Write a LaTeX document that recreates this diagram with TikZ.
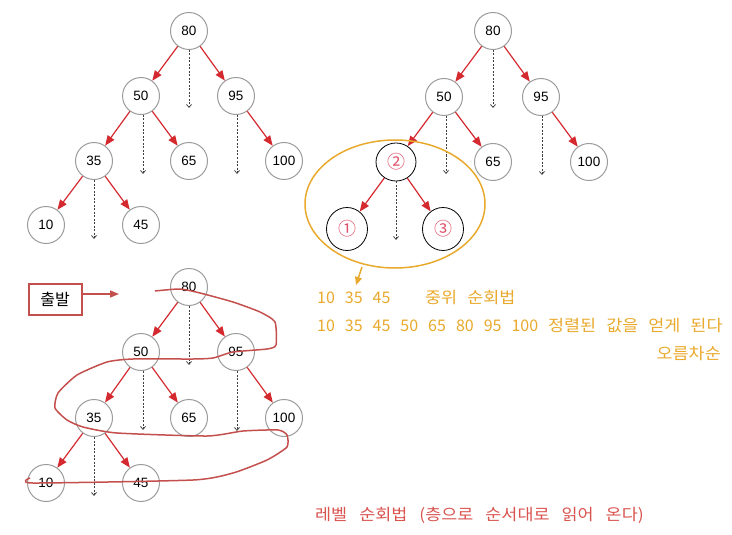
\documentclass[tikz,border=0pt]{standalone}
\usepackage{fontspec}
\setmainfont{Liberation Sans}
\newfontfamily\ko{Noto Sans CJK KR}
\newfontfamily\kow[FakeStretch=1.09]{Noto Sans CJK KR}
\usetikzlibrary{arrows.meta,shapes.geometric}
\definecolor{edgered}{HTML}{D42A2F}
\definecolor{nodegray}{HTML}{9C9C9C}
\definecolor{orng}{HTML}{E9A92C}
\definecolor{lvlred}{HTML}{C4504E}
\definecolor{txtred}{HTML}{D9534F}
\definecolor{pinknum}{HTML}{E0506A}
\newcommand\widesp{\spaceskip=10pt plus 0pt minus 0pt\relax}
\newcommand\widerSp{\spaceskip=12pt plus 0pt minus 0pt\relax}
\tikzset{
  tnode/.style={circle,draw=nodegray,line width=1pt,minimum size=37pt,inner sep=0pt,fill=white,font=\fontsize{13.5}{13.5}\selectfont},
  bnode/.style={ellipse,draw=black,line width=0.8pt,minimum width=41pt,minimum height=43pt,inner sep=0pt,fill=white,text=pinknum,font=\ko\fontsize{18}{18}\selectfont},
  redge/.style={draw=edgered,line width=1.2pt,-{Triangle[length=10pt,width=8pt]}},
  dedge/.style={draw=black!75,line width=0.75pt,dash pattern=on 2pt off 1.5pt,-{Straight Barb[length=3pt,width=5pt]}},
  otext/.style={text=orng,anchor=base west,inner sep=0pt,font={\ko\fontsize{16}{16}\selectfont\widesp}},
}
\begin{document}
\begin{tikzpicture}[x=1pt,y=-1pt]
\useasboundingbox (0,0) rectangle (732,535);
% ---------- tree 1
\node[tnode] (a80) at (189,31) {80};
\node[tnode] (a50) at (141,96) {50};
\node[tnode] (a95) at (236,96) {95};
\node[tnode] (a35) at (94,161) {35};
\node[tnode] (a65) at (189,161) {65};
\node[tnode] (a100) at (284,161) {100};
\node[tnode] (a10) at (46,225) {10};
\node[tnode] (a45) at (141,225) {45};
\draw[redge] (a80) -- (a50);
\draw[redge] (a80) -- (a95);
\draw[redge] (a50) -- (a35);
\draw[redge] (a50) -- (a65);
\draw[redge] (a95) -- (a100);
\draw[redge] (a35) -- (a10);
\draw[redge] (a35) -- (a45);
\coordinate (ad80) at (189,108);
\coordinate (ad50) at (143,174);
\coordinate (ad95) at (237,174);
\coordinate (ad35) at (94,239);
\draw[dedge] (a80.south) -- (ad80);
\draw[dedge] ([xshift=2pt]a50.south) -- (ad50);
\draw[dedge] ([xshift=1pt]a95.south) -- (ad95);
\draw[dedge] (a35.south) -- (ad35);
% ---------- tree 2
\node[tnode] (b80) at (493,31) {80};
\node[tnode] (b50) at (444,97) {50};
\node[tnode] (b95) at (541,97) {95};
\node[tnode] (b65) at (493,162) {65};
\node[tnode] (b100) at (589,162) {100};
\node[bnode,minimum width=40pt,minimum height=38pt] (b2) at (396,162) {②};
\node[bnode] (b1) at (347,229) {①};
\node[bnode] (b3) at (443,229) {③};
\draw[redge] (b80) -- (b50);
\draw[redge] (b80) -- (b95);
\draw[redge] (b50) -- (b2);
\draw[redge] (b50) -- (b65);
\draw[redge] (b95) -- (b100);
\draw[redge] (b2) -- (b1);
\draw[redge] (b2) -- (b3);
\coordinate (bd80) at (493,108);
\coordinate (bd50) at (446,174);
\coordinate (bd95) at (542,175);
\coordinate (bd2) at (396,240);
\draw[dedge] (b80.south) -- (bd80);
\draw[dedge] ([xshift=2pt]b50.south) -- (bd50);
\draw[dedge] ([xshift=1pt]b95.south) -- (bd95);
\draw[dedge] (b2.south) -- (bd2);
\node[ellipse,draw=orng,line width=1.5pt,minimum width=180pt,minimum height=128pt] (oell) at (395,204) {};
\coordinate (oarr) at (356,285);
\draw[orng,line width=1.5pt,-{Triangle[length=8pt,width=7pt]}] (362,267) -- (oarr);
\node[otext] (t1) at (317,303) {10 35 45};
\node[otext] (t1b) at (425,303) {\kow 중위 순회법};
\node[otext] (t2) at (317,331) {10 35 45 50 65 80 95 100 {\kow 정렬된 값을 얻게 된다}};
\node[otext,anchor=base east] (t3) at (721,359) {\kow 오름차순};
% ---------- tree 3
\node[tnode] (c80) at (189,287) {80};
\node[tnode] (c50) at (141,352) {50};
\node[tnode] (c95) at (236,352) {95};
\node[tnode] (c35) at (94,418) {35};
\node[tnode] (c65) at (189,418) {65};
\node[tnode] (c100) at (284,418) {100};
\node[tnode] (c10) at (46,483) {10};
\node[tnode] (c45) at (141,483) {45};
\draw[redge] (c80) -- (c50);
\draw[redge] (c80) -- (c95);
\draw[redge] (c50) -- (c35);
\draw[redge] (c50) -- (c65);
\draw[redge] (c95) -- (c100);
\draw[redge] (c35) -- (c10);
\draw[redge] (c35) -- (c45);
\coordinate (cd80) at (189,365);
\coordinate (cd50) at (143,430);
\coordinate (cd95) at (237,431);
\coordinate (cd35) at (94,496);
\draw[dedge] (c80.south) -- (cd80);
\draw[dedge] ([xshift=2pt]c50.south) -- (cd50);
\draw[dedge] ([xshift=1pt]c95.south) -- (cd95);
\draw[dedge] (c35.south) -- (cd35);
% level traversal curve
\draw[lvlred,line width=1.5pt,line join=round] plot[smooth,tension=0.35] coordinates {
 (155,291) (180,289) (200,293) (233,302) (260,312) (275,322) (276,345) (267,349)
 (233,352) (213,358) (193,359) (133,359) (107,362) (77,375) (58,393) (55,408)
 (67,420) (83,427) (117,433) (207,436) (243,431) (278,430) (287,435) (287,447)
 (267,460) (233,473) (193,480) (33,483) (30,478)};
\node[draw=lvlred,line width=2pt,minimum width=53pt,minimum height=31pt,inner sep=0pt,font=\ko\fontsize{16}{16}\selectfont] (start) at (55,299) {출발};
\coordinate (startend) at (119,294);
\draw[lvlred,line width=1.5pt,-{Triangle[length=9pt,width=7pt]}] (start.east |- startend) -- (startend);
\node[otext,text=txtred,font={\kow\fontsize{16}{16}\selectfont\widerSp}] (lvl) at (315,520) {레벨 순회법 (층으로 순서대로 읽어 온다)};
\end{tikzpicture}
\end{document}
